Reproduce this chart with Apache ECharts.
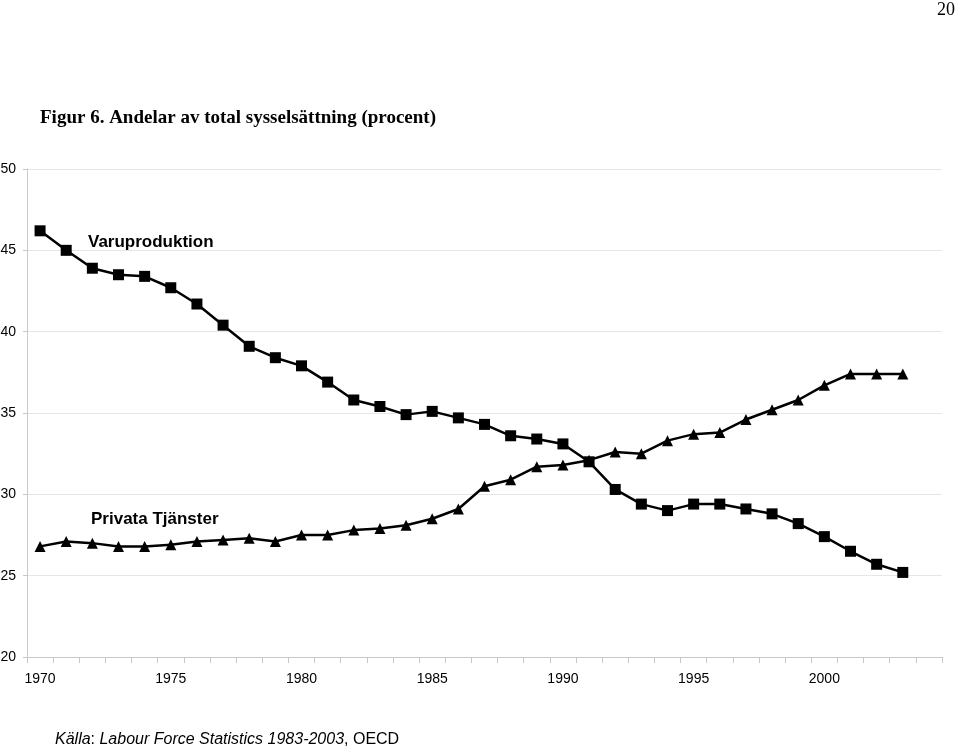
<!DOCTYPE html>
<html>
<head>
<meta charset="utf-8">
<script src="https://cdn.jsdelivr.net/npm/echarts@6/dist/echarts.min.js"></script>
<style>
html,body{margin:0;padding:0;background:#fff;}
#chart{width:960px;height:748px;}
</style>
</head>
<body>
<div id="chart"></div>
<script>
const years = ['1970','1971','1972','1973','1974','1975','1976','1977','1978','1979','1980','1981','1982','1983','1984','1985','1986','1987','1988','1989','1990','1991','1992','1993','1994','1995','1996','1997','1998','1999','2000','2001','2002','2003','2004'];
const varuproduktion = [46.2,45.0,43.9,43.5,43.4,42.7,41.7,40.4,39.1,38.4,37.9,36.9,35.8,35.4,34.9,35.1,34.7,34.3,33.6,33.4,33.1,32.0,30.3,29.4,29.0,29.4,29.4,29.1,28.8,28.2,27.4,26.5,25.7,25.2];
const privataTjanster = [26.8,27.1,27.0,26.8,26.8,26.9,27.1,27.2,27.3,27.1,27.5,27.5,27.8,27.9,28.1,28.5,29.1,30.5,30.9,31.7,31.8,32.1,32.6,32.5,33.3,33.7,33.8,34.6,35.2,35.8,36.7,37.4,37.4,37.4];
const yTicks = [20,25,30,35,40,45,50];

const chart = echarts.init(document.getElementById('chart'), null, {renderer:'canvas'});
const option = {
  backgroundColor:'#ffffff',
  animation:false,
  title:[
    {text:'Figur 6. Andelar av total sysselsättning (procent)', left:40, top:109, padding:0,
     textStyle:{fontFamily:'Liberation Serif', fontWeight:'bold', fontSize:19, color:'#000'}},
    {text:'20', right:5, top:1, padding:0,
     textStyle:{fontFamily:'Liberation Serif', fontWeight:'normal', fontSize:18, color:'#000'}},
    {text:'{i|Källa}{n|: }{i|Labour Force Statistics 1983-2003}{n|, OECD}', left:55, top:732, padding:0,
     textStyle:{fontWeight:'normal', rich:{
       i:{fontFamily:'Liberation Sans', fontStyle:'italic', fontWeight:'normal', fontSize:16, color:'#000'},
       n:{fontFamily:'Liberation Sans', fontStyle:'normal', fontWeight:'normal', fontSize:16, color:'#000'}
     }}},
    {text:'Varuproduktion', left:88, top:234, padding:0,
     textStyle:{fontFamily:'Liberation Sans', fontWeight:'bold', fontSize:17, color:'#000'}},
    {text:'Privata Tjänster', left:91, top:511, padding:0,
     textStyle:{fontFamily:'Liberation Sans', fontWeight:'bold', fontSize:17, color:'#000'}}
  ],
  grid:{left:27, right:18, top:169, bottom:91, containLabel:false, outerBoundsMode:'none'},
  xAxis:{
    type:'category', data:years, boundaryGap:true,
    axisLine:{lineStyle:{color:'#c8c8c8', width:1}},
    axisTick:{show:true, alignWithLabel:false, interval:0, length:6, lineStyle:{color:'#c8c8c8'}},
    axisLabel:{interval:4, margin:15, fontFamily:'Liberation Sans', fontSize:14, color:'#000'},
    splitLine:{show:false}
  },
  yAxis:{
    type:'value', min:20, max:50, interval:5,
    axisLine:{show:true, lineStyle:{color:'#c8c8c8', width:1}},
    axisTick:{show:true, length:4, lineStyle:{color:'#c8c8c8'}},
    axisLabel:{margin:11, fontFamily:'Liberation Sans', fontSize:14, color:'#000',
      formatter:function(v){return yTicks.indexOf(v)>=0? String(v):'';}},
    splitLine:{show:true, lineStyle:{color:'#e6e6e6', width:1}}
  },
  series:[
    {name:'Varuproduktion', type:'line', data:varuproduktion,
     symbol:'rect', symbolSize:11, showAllSymbol:true,
     lineStyle:{color:'#000', width:2.5}, itemStyle:{color:'#000'}},
    {name:'Privata Tjänster', type:'line', data:privataTjanster,
     symbol:'triangle', symbolSize:11, showAllSymbol:true,
     lineStyle:{color:'#000', width:2.5}, itemStyle:{color:'#000'}}
  ]
};
chart.setOption(option);
</script>
</body>
</html>
